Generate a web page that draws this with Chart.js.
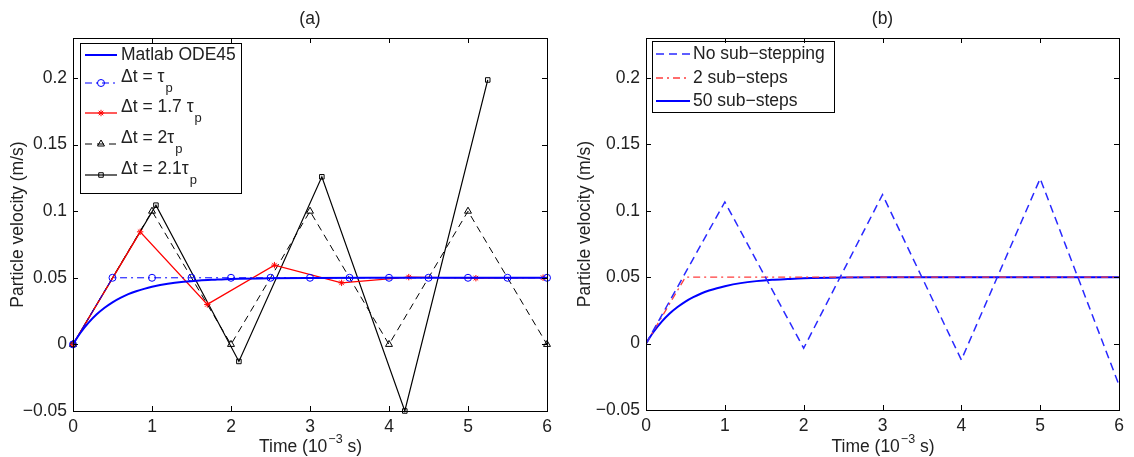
<!DOCTYPE html>
<html>
<head>
<meta charset="utf-8">
<script src="https://cdn.jsdelivr.net/npm/chart.js@4.4.1/dist/chart.umd.min.js"></script>
<style>
  body { margin: 0; background: #fff; }
  .panneau { position: absolute; top: 0; width: 567px; height: 457px; }
</style>
</head>
<body>
<div class="panneau" style="left:0"><canvas id="chartA" width="567" height="457"></canvas></div>
<div class="panneau" style="left:567px"><canvas id="chartB" width="567" height="457"></canvas></div>
<script>
// ---- données (temps en 10^-3 s, vitesse en m/s) ----
// solution de référence (Matlab ODE45 / 50 sous-pas)
const tempsRef = [0, 0.05, 0.1, 0.2, 0.3, 0.4, 0.5, 0.6, 0.7, 0.8, 0.9, 1.0, 1.2, 1.4, 1.6, 1.8, 2.0, 2.5, 3.0, 4.0, 5.0, 6.0]
const vitesseRef = [0, 0.0048, 0.0091, 0.0165, 0.0226, 0.0275, 0.0316, 0.0349, 0.0377, 0.0399, 0.0417, 0.0432, 0.0455, 0.0470, 0.0480, 0.0486, 0.0491, 0.0497, 0.0499, 0.05, 0.05, 0.05]

// (a) pas de temps différents
const tempsTau = [0, 0.5, 1, 1.5, 2, 2.5, 3, 3.5, 4, 4.5, 5, 5.5, 6]
const vitesseTau = [0, 0.05, 0.05, 0.05, 0.05, 0.05, 0.05, 0.05, 0.05, 0.05, 0.05, 0.05, 0.05]
const temps17 = [0, 0.85, 1.7, 2.55, 3.4, 4.25, 5.1, 5.95]
const vitesse17 = [0, 0.0845, 0.030, 0.0595, 0.0462, 0.0505, 0.0497, 0.0501]
const temps2 = [0, 1, 2, 3, 4, 5, 6]
const vitesse2 = [0, 0.1, 0, 0.1, 0, 0.1, 0]
const temps21 = [0, 1.05, 2.1, 3.15, 4.2, 5.25]
const vitesse21 = [0, 0.1045, -0.0128, 0.1258, -0.05, 0.1985]

// (b) sous-pas
const tempsSansSousPas = [0, 1, 2, 3, 4, 5, 6]
const vitesseSansSousPas = [0, 0.1066, -0.0035, 0.1121, -0.0123, 0.1242, -0.0312]
const temps2SousPas = [0, 0.5, 1, 2, 3, 4, 5, 6]
const vitesse2SousPas = [0, 0.05, 0.05, 0.05, 0.05, 0.05, 0.05, 0.05]

const legendeA = ['Matlab ODE45', 'Δt = τ_p', 'Δt = 1.7 τ_p', 'Δt = 2τ_p', 'Δt = 2.1τ_p']
const legendeB = ['No sub−stepping', '2 sub−steps', '50 sub−steps']
const ticksX = [0, 1, 2, 3, 4, 5, 6]
const ticksY = [-0.05, 0, 0.05, 0.1, 0.15, 0.2]

const police = '"Liberation Sans", Arial, Helvetica, sans-serif'
const taille = 17.5
const couleurTexte = '#222'

const points = (xs, ys) => xs.map((x, i) => ({ x: x, y: ys[i] }))

// texte avec indice : "τ_p" -> τ puis p en indice
function ecrireAvecIndice(ctx, texte, x, y) {
    const morceaux = texte.split('_')
    ctx.font = taille + 'px ' + police
    ctx.fillText(morceaux[0], x, y)
    if (morceaux.length > 1) {
        const w = ctx.measureText(morceaux[0]).width
        ctx.font = '13px ' + police
        ctx.fillText(morceaux[1], x + w + 1, y + 11)
    }
}

const decor = {
    id: 'decor',
    afterDraw(chart, args, opts) {
        const { ctx, chartArea: a, scales } = chart
        const x = scales.x, y = scales.y
        ctx.save()
        // légende
        const L = opts.legende
        ctx.fillStyle = '#fff'
        ctx.fillRect(L.x, L.y, L.w, L.h)
        ctx.strokeStyle = '#000'
        ctx.lineWidth = 1
        ctx.strokeRect(L.x + 0.5, L.y + 0.5, L.w, L.h)
        L.lignes.forEach((ly, i) => {
            const ds = chart.data.datasets[i]
            ctx.save()
            ctx.strokeStyle = ds.borderColor
            ctx.lineWidth = ds.borderWidth
            ctx.setLineDash(ds.borderDash || [])
            ctx.beginPath()
            ctx.moveTo(L.x0, ly)
            ctx.lineTo(L.x1, ly)
            ctx.stroke()
            ctx.setLineDash([])
            if (ds.pointRadius > 0) {
                ctx.lineWidth = ds.pointBorderWidth || 1
                ctx.fillStyle = 'rgba(0,0,0,0)'
                Chart.helpers.drawPoint(ctx, { pointStyle: ds.pointStyle, radius: ds.pointRadius, rotation: 0, borderWidth: ctx.lineWidth }, (L.x0 + L.x1) / 2, ly)
            }
            ctx.restore()
            ctx.fillStyle = couleurTexte
            ctx.textBaseline = 'middle'
            ctx.textAlign = 'left'
            const lab = ds.label
            ecrireAvecIndice(ctx, lab, L.xt, lab.includes('_') ? ly - 6 : ly)
        })
        // cadre et graduations intérieures
        ctx.strokeStyle = '#000'
        ctx.lineWidth = 1
        ctx.strokeRect(a.left + 0.5, a.top + 0.5, a.right - a.left, a.bottom - a.top)
        ctx.beginPath()
        ticksX.forEach(v => {
            const px = Math.round(x.getPixelForValue(v)) + 0.5
            ctx.moveTo(px, a.bottom); ctx.lineTo(px, a.bottom - 5)
            ctx.moveTo(px, a.top); ctx.lineTo(px, a.top + 5)
        })
        ticksY.forEach(v => {
            const py = Math.round(y.getPixelForValue(v)) + 0.5
            ctx.moveTo(a.left, py); ctx.lineTo(a.left + 5, py)
            ctx.moveTo(a.right, py); ctx.lineTo(a.right - 5, py)
        })
        ctx.stroke()
        // titres
        const cx = (a.left + a.right) / 2
        ctx.fillStyle = couleurTexte
        ctx.textAlign = 'center'
        ctx.textBaseline = 'middle'
        ctx.font = taille + 'px ' + police
        ctx.fillText(opts.titre, cx, 19)
        // titre axe x : Time (10^-3 s)
        const t1 = 'Time (10', t2 = '−3', t3 = ' s)'
        ctx.font = taille + 'px ' + police
        const w1 = ctx.measureText(t1).width, w3 = ctx.measureText(t3).width
        ctx.font = '12.5px ' + police
        const w2 = ctx.measureText(t2).width
        let px = cx - (w1 + w2 + w3) / 2
        ctx.textAlign = 'left'
        ctx.font = taille + 'px ' + police
        ctx.fillText(t1, px, 447)
        ctx.font = '12.5px ' + police
        ctx.fillText(t2, px + w1 + 1, 440)
        ctx.font = taille + 'px ' + police
        ctx.fillText(t3, px + w1 + w2 + 1, 447)
        // titre axe y
        ctx.translate(18, (a.top + a.bottom) / 2)
        ctx.rotate(-Math.PI / 2)
        ctx.textAlign = 'center'
        ctx.fillText('Particle velocity (m/s)', 0, 0)
        ctx.restore()
    }
}

function echelles(largeurY, hauteurX) {
    return {
        x: {
            type: 'linear', min: 0, max: 6,
            grid: { display: false, drawTicks: false },
            border: { display: false },
            ticks: { stepSize: 1, color: couleurTexte, font: { size: taille, family: police }, padding: 6, maxRotation: 0 },
            afterFit: s => { s.height = hauteurX }
        },
        y: {
            type: 'linear', min: -0.05, max: 0.23,
            grid: { display: false, drawTicks: false },
            border: { display: false },
            ticks: {
                stepSize: 0.05, includeBounds: false, color: couleurTexte,
                font: { size: taille, family: police }, padding: 6,
                callback: v => String(Number(v.toFixed(2))).replace('-', '−')
            },
            afterFit: s => { s.width = largeurY }
        }
    }
}

const dataA = {
    datasets: [
        { label: legendeA[0], data: points(tempsRef, vitesseRef), borderColor: 'rgb(0,0,255)', borderWidth: 2, pointRadius: 0, cubicInterpolationMode: 'monotone' },
        { label: legendeA[1], data: points(tempsTau, vitesseTau), borderColor: 'rgb(0,0,255)', borderWidth: 1, borderDash: [7, 4, 2, 4], pointStyle: 'circle', pointRadius: 3.5, pointBorderWidth: 1, pointBorderColor: 'rgb(0,0,255)', pointBackgroundColor: 'rgba(0,0,0,0)' },
        { label: legendeA[2], data: points(temps17, vitesse17), borderColor: 'rgb(255,0,0)', borderWidth: 1.3, pointStyle: 'star', pointRadius: 3.2, pointBorderWidth: 1, pointBorderColor: 'rgb(255,0,0)', pointBackgroundColor: 'rgba(0,0,0,0)' },
        { label: legendeA[3], data: points(temps2, vitesse2), borderColor: '#000', borderWidth: 1, borderDash: [7, 5], pointStyle: 'triangle', pointRadius: 4, pointBorderWidth: 1, pointBorderColor: '#000', pointBackgroundColor: 'rgba(0,0,0,0)' },
        { label: legendeA[4], data: points(temps21, vitesse21), borderColor: '#000', borderWidth: 1.2, pointStyle: 'rect', pointRadius: 3.2, pointBorderWidth: 1, pointBorderColor: '#000', pointBackgroundColor: 'rgba(0,0,0,0)' }
    ]
}
dataA.datasets.forEach(d => { d.showLine = true; d.clip = false })

const dataB = {
    datasets: [
        { label: legendeB[0], data: points(tempsSansSousPas, vitesseSansSousPas), borderColor: 'rgb(40,40,255)', borderWidth: 1.5, borderDash: [8, 5], pointRadius: 0 },
        { label: legendeB[1], data: points(temps2SousPas, vitesse2SousPas), borderColor: 'rgb(255,60,60)', borderWidth: 1.3, borderDash: [7, 4, 2, 4], pointRadius: 0 },
        { label: legendeB[2], data: points(tempsRef, vitesseRef), borderColor: 'rgb(0,0,255)', borderWidth: 2, pointRadius: 0, cubicInterpolationMode: 'monotone' }
    ]
}
dataB.datasets.forEach(d => { d.showLine = true })

const optionsCommunes = {
    responsive: false,
    animation: false,
    events: [],
    plugins: { legend: { display: false }, tooltip: { enabled: false } }
}

new Chart(document.getElementById('chartA'), {
    type: 'scatter',
    data: dataA,
    options: Object.assign({}, optionsCommunes, {
        layout: { padding: { top: 38, right: 20, left: 0, bottom: 0 } },
        scales: echelles(73, 46),
        plugins: Object.assign({}, optionsCommunes.plugins, {
            decor: { titre: '(a)', legende: { x: 80, y: 43, w: 161, h: 150, x0: 85, x1: 117, xt: 121, lignes: [55, 83, 113, 144, 175] } }
        })
    }),
    plugins: [decor]
})

new Chart(document.getElementById('chartB'), {
    type: 'scatter',
    data: dataB,
    options: Object.assign({}, optionsCommunes, {
        layout: { padding: { top: 38, right: 15, left: 0, bottom: 0 } },
        scales: echelles(79, 47),
        plugins: Object.assign({}, optionsCommunes.plugins, {
            decor: { titre: '(b)', legende: { x: 85, y: 41, w: 182, h: 71, x0: 89, x1: 123, xt: 126, lignes: [54, 78, 101] } }
        })
    }),
    plugins: [decor]
})
</script>
</body>
</html>
